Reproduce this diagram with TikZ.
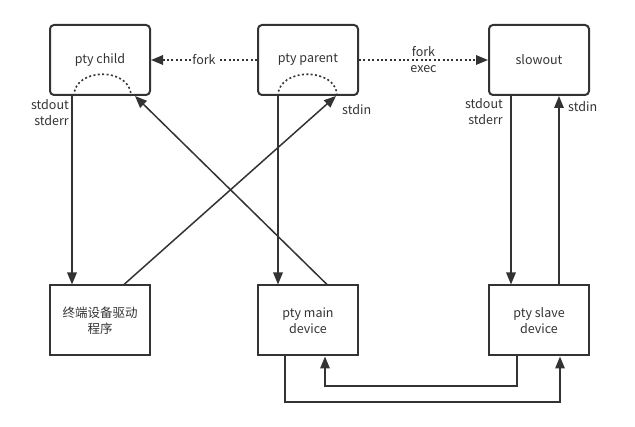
\documentclass[tikz,border=0pt]{standalone}
\usepackage{fontspec}
\setmainfont{Noto Sans CJK SC}
\usetikzlibrary{arrows.meta}
\definecolor{ink}{HTML}{333333}
\begin{document}
\begin{tikzpicture}[x=1pt,y=-1pt,
  box/.style={draw=ink,line width=2pt,minimum width=100pt,minimum height=70pt,align=center,text=ink,font=\fontsize{12.5}{16}\selectfont,inner sep=0pt},
  rbox/.style={box,rounded corners=4pt},
  tip/.style={-{Triangle[length=12pt,width=9.5pt]}},
  conn/.style={draw=ink,line width=1.5pt,tip},
  line/.style={draw=ink,line width=1.5pt},
  dots/.style={draw=ink,line width=1.6pt,dash pattern=on 2pt off 2.4pt},
  lbl/.style={text=ink,font=\fontsize{12.5}{16}\selectfont,inner sep=1pt}]
\useasboundingbox (0,0) rectangle (635,427);
% nodes
\node[rbox] (child)   at (100,60) {pty child};
\node[rbox] (parent)  at (308,60) {pty parent};
\node[rbox] (slowout) at (539,60) {slowout};
\node[box]  (term)    at (100,320.5) {终端设备驱动\\程序};
\node[box]  (main)    at (308,320.5) {pty main\\device};
\node[box]  (slave)   at (539,320.5) {pty slave\\device};
% fork arrows
\draw[dots,tip] (parent.west) -- node[lbl,fill=white] (fk1) {fork} (child.east);
\draw[dots,tip] (parent.east) -- node[lbl,align=center] (fk2) {fork\\exec} (slowout.west);
% vertical connectors
\draw[conn] ([xshift=23pt]child.south west) -- ([xshift=23pt]term.north west);
\draw[conn] ([xshift=21pt]parent.south west) -- ([xshift=21pt]main.north west);
\draw[conn] ([xshift=23pt]slowout.south west) -- ([xshift=23pt]slave.north west);
\draw[conn] ([xshift=71pt]slave.north west) -- ([xshift=71pt]slowout.south west);
% diagonals
\draw[conn] ([xshift=75pt]term.north west) -- ([xshift=79pt]parent.south west);
\draw[conn] ([xshift=70pt]main.north west) -- ([xshift=86pt]child.south west);
% dotted arcs
\draw[dots] ([xshift=25pt]child.south west) .. controls ([xshift=25pt,yshift=29pt]child.south west) and ([xshift=82pt,yshift=29pt]child.south west) .. ([xshift=82pt]child.south west);
\draw[dots] ([xshift=21pt]parent.south west) .. controls ([xshift=21pt,yshift=29pt]parent.south west) and ([xshift=80pt,yshift=29pt]parent.south west) .. ([xshift=80pt]parent.south west);
% bottom feedback loops
\coordinate (lo) at (420,402);
\coordinate (hi) at (420,386);
\draw[conn] ([xshift=28pt]main.south west) |- (lo) -| ([xshift=72pt]slave.south west);
\draw[conn] ([xshift=29pt]slave.south west) |- (hi) -| ([xshift=68pt]main.south west);
% labels
\node[lbl,align=right,anchor=east] (so1) at (70,113) {stdout\\stderr};
\node[lbl,anchor=west] (si1) at (341,110) {stdin};
\node[lbl,align=right,anchor=east] (so2) at (504,112) {stdout\\stderr};
\node[lbl,anchor=west] (si2) at (567,107) {stdin};
\end{tikzpicture}
\end{document}
